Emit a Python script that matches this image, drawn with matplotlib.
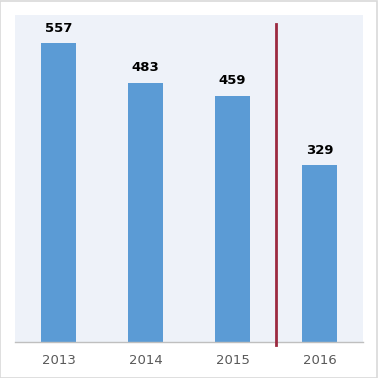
import matplotlib.pyplot as plt
from matplotlib.patches import Rectangle

# data
years = ['2013', '2014', '2015', '2016']
values = [557, 483, 459, 329]
split_at = 2.5  # divider between 2015 and 2016

fig = plt.figure(figsize=(3.78, 3.78), dpi=100)
fig.patch.set_facecolor('white')
fig.patches.append(Rectangle((0.001, 0.001), 0.997, 0.997, transform=fig.transFigure,
                             fill=False, edgecolor='#d9d9d9', linewidth=1.2))

# plot area: x 15..363, y 15..342 (pixels from top)
ax = fig.add_axes([15 / 378, 36 / 378, 348 / 378, 327 / 378])
ax.set_facecolor('#eef2f9')

x = range(len(years))
ax.bar(x, values, width=0.40, color='#5b9bd5', zorder=2)
ax.set_xlim(-0.5, 3.5)
ax.set_ylim(0, 609)

for xi, v in zip(x, values):
    ax.annotate(str(v), (xi, v), xytext=(0, 6), textcoords='offset points',
                ha='center', va='bottom', fontsize=9.5, fontweight='bold', color='black')

# divider line
ax.plot([split_at, split_at], [-5, 592], color='#9b2a40', linewidth=2, clip_on=False, zorder=3)

for s in ['top', 'right', 'left']:
    ax.spines[s].set_visible(False)
ax.spines['bottom'].set_color('#bfbfbf')
ax.spines['bottom'].set_linewidth(1)
ax.set_yticks([])
ax.set_xticks(list(x))
ax.set_xticklabels(years, fontsize=9.5, color='#595959')
ax.tick_params(axis='x', length=0, pad=9)

fig.savefig('out.png', dpi=100)
